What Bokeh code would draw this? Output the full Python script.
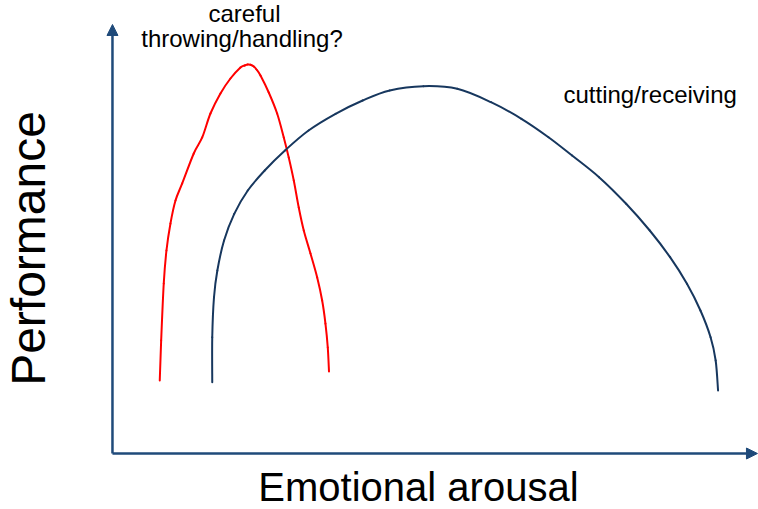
from bokeh.plotting import figure
from bokeh.models import Arrow, NormalHead, Range1d, Label
from bokeh.embed import file_html
from bokeh.resources import INLINE

# Red curve: careful throwing/handling (arousal vs performance, axis units 0-100)
red_x = [7.33, 7.55, 7.95, 8.37, 8.99, 9.77, 10.81, 12.60, 13.91, 15.19, 16.74,
         18.29, 19.84, 20.50, 20.98, 21.40, 21.91, 22.33, 22.95, 24.23, 25.53,
         26.56, 27.33, 28.11, 28.88, 29.66, 30.70, 31.74, 32.51, 33.02, 33.38, 33.57]
red_y = [17.02, 26.34, 39.63, 47.32, 53.61, 58.97, 62.94, 69.93, 73.66, 79.25, 83.92,
         87.41, 89.98, 90.45, 90.68, 90.62, 90.21, 89.51, 88.11, 84.15, 79.25,
         73.66, 69.00, 63.64, 57.34, 51.98, 46.62, 41.03, 35.66, 30.30, 24.71, 19.11]

# Blue curve: cutting/receiving
blue_x = [15.47, 15.47, 15.74, 16.26, 17.30, 18.88, 20.98, 23.60, 26.74, 30.40,
          34.59, 38.79, 42.98, 48.22, 53.46, 58.68, 63.40, 67.60, 71.26, 75.44,
          79.64, 83.30, 86.45, 89.07, 91.16, 92.73, 93.52, 93.89]
blue_y = [16.62, 27.11, 36.43, 42.66, 49.65, 55.87, 61.31, 65.97, 70.63, 75.29,
          79.18, 82.28, 84.62, 85.62, 85.01, 81.89, 78.02, 73.73, 69.46, 64.41,
          58.21, 51.98, 45.76, 39.56, 33.33, 27.11, 21.68, 14.69]

x_label = "Emotional arousal"
y_label = "Performance"
red_label = ["careful", "throwing/handling?"]
blue_label = "cutting/receiving"

FONT = "Liberation Sans"
AXIS_COLOR = "#1f4a7a"
BLUE = "#17375e"
RED = "#ff0000"


def smooth_segments(xs, ys):
    """Catmull-Rom through the read points, expressed as cubic Bezier segments."""
    n = len(xs)
    out = dict(x0=[], y0=[], x1=[], y1=[], cx0=[], cy0=[], cx1=[], cy1=[])
    for i in range(n - 1):
        a = max(i - 1, 0)
        d = min(i + 2, n - 1)
        out["x0"].append(xs[i]); out["y0"].append(ys[i])
        out["x1"].append(xs[i + 1]); out["y1"].append(ys[i + 1])
        out["cx0"].append(xs[i] + (xs[i + 1] - xs[a]) / 6.0)
        out["cy0"].append(ys[i] + (ys[i + 1] - ys[a]) / 6.0)
        out["cx1"].append(xs[i + 1] - (xs[d] - xs[i]) / 6.0)
        out["cy1"].append(ys[i + 1] - (ys[d] - ys[i]) / 6.0)
    return out


p = figure(width=758, height=509, output_backend="svg", toolbar_location=None,
           x_range=Range1d(-17.36, 100.16), y_range=Range1d(-13.05, 105.59),
           min_border=0, outline_line_color=None)
p.xaxis.visible = False
p.yaxis.visible = False
p.xgrid.visible = False
p.ygrid.visible = False
p.background_fill_color = "white"
p.border_fill_color = "white"

# axes as arrows
p.add_layout(Arrow(end=NormalHead(size=11, fill_color=AXIS_COLOR, line_color=AXIS_COLOR, line_width=1),
                   x_start=0, y_start=0, x_end=100, y_end=0,
                   line_color=AXIS_COLOR, line_width=2.5))
p.add_layout(Arrow(end=NormalHead(size=11, fill_color=AXIS_COLOR, line_color=AXIS_COLOR, line_width=1),
                   x_start=0, y_start=0, x_end=0, y_end=100,
                   line_color=AXIS_COLOR, line_width=2.5))

rs = smooth_segments(red_x, red_y)
p.bezier(x0=rs["x0"], y0=rs["y0"], x1=rs["x1"], y1=rs["y1"],
         cx0=rs["cx0"], cy0=rs["cy0"], cx1=rs["cx1"], cy1=rs["cy1"],
         line_color=RED, line_width=2, line_cap="round")
bs = smooth_segments(blue_x, blue_y)
p.bezier(x0=bs["x0"], y0=bs["y0"], x1=bs["x1"], y1=bs["y1"],
         cx0=bs["cx0"], cy0=bs["cy0"], cx1=bs["cx1"], cy1=bs["cy1"],
         line_color=BLUE, line_width=2, line_cap="round")

p.add_layout(Label(x=20.47, y=101.4, y_offset=5, text=red_label[0], text_font=FONT,
                   text_font_size="24px", text_align="center", text_baseline="alphabetic",
                   text_color="black"))
p.add_layout(Label(x=20.08, y=95.1, y_offset=7, text=red_label[1], text_font=FONT,
                   text_font_size="24px", text_align="center", text_baseline="alphabetic",
                   text_color="black"))
p.add_layout(Label(x=69.92, y=81.58, y_offset=9, text=blue_label, text_font=FONT,
                   text_font_size="24px", text_align="left", text_baseline="alphabetic",
                   text_color="black"))
p.add_layout(Label(x=47.44, y=-12.6, y_offset=21, text=x_label, text_font=FONT,
                   text_font_size="40px", text_align="center", text_baseline="alphabetic",
                   text_color="black"))
p.add_layout(Label(x=-11.6, y=47.79, x_offset=-9, text=y_label, text_font=FONT,
                   text_font_size="48px", text_align="center", text_baseline="alphabetic",
                   text_color="black", angle=1.5707963))

open("out.html", "w").write(file_html(p, INLINE))
